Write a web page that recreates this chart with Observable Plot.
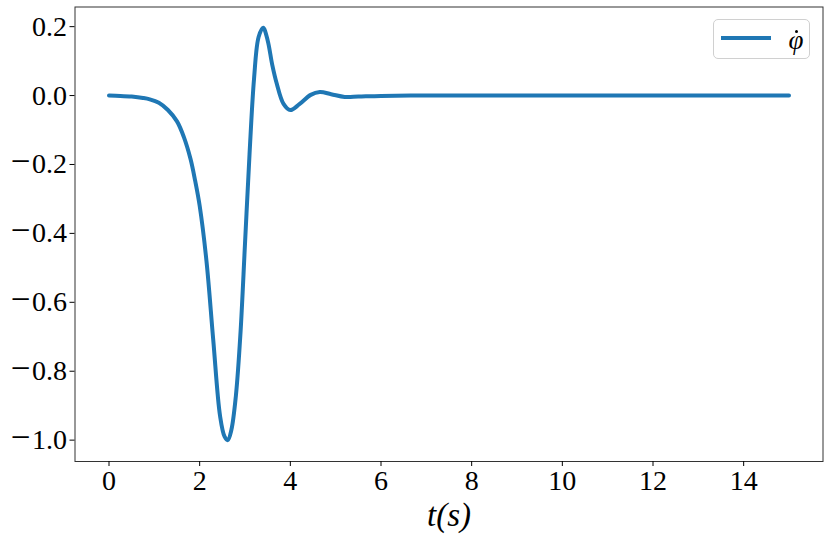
<!DOCTYPE html>
<html>
<head>
<meta charset="utf-8">
<script src="https://cdn.jsdelivr.net/npm/d3@7"></script>
<script src="https://cdn.jsdelivr.net/npm/@observablehq/plot@0.6"></script>
<style>
  html, body { margin: 0; padding: 0; background: white; }
  #wrap { position: relative; width: 830px; height: 537px; }
  #wrap svg text { font-family: "Liberation Serif", "DejaVu Serif", serif; }
  #legend { position: absolute; left: 712.5px; top: 18.5px; width: 97px; height: 40px;
    border: 1px solid #d0d0d0; border-radius: 5px; background: rgba(255,255,255,0.8);
    box-sizing: border-box; }
  #legend .swatch { position: absolute; left: 7px; top: 16.5px; width: 50px; height: 4px; background: #1f77b4; }
  #legend .lab { position: absolute; left: 75px; top: 2px; font-family: "Liberation Serif", serif; font-style: italic; font-size: 27px; line-height: 36px; }
  #legend .dot { position: absolute; left: 81px; top: 10px; width: 3px; height: 3px; border-radius: 50%; background: #000; }
</style>
</head>
<body>
<div id="wrap"><div id="legend"><div class="swatch"></div><div class="lab">φ</div><div class="dot"></div></div></div>
<script>
const tValues = [0, 0.25, 0.5, 0.75, 0.9, 1.1, 1.3, 1.5, 1.65, 1.8, 1.9, 2.0, 2.15, 2.3, 2.45, 2.55, 2.62, 2.7, 2.8, 2.9, 3.0, 3.1, 3.2, 3.3, 3.4, 3.5, 3.6, 3.7, 3.85, 4.0, 4.2, 4.45, 4.65, 4.9, 5.2, 5.5, 6.0, 7, 8, 9, 10, 11, 12, 13, 14, 15];
const phiDot = [0, -0.001, -0.003, -0.007, -0.011, -0.021, -0.042, -0.075, -0.12, -0.185, -0.247, -0.32, -0.48, -0.71, -0.93, -0.99, -1.0, -0.97, -0.87, -0.69, -0.43, -0.17, 0.05, 0.17, 0.197, 0.16, 0.09, 0.035, -0.024, -0.042, -0.025, 0.002, 0.01, 0.004, -0.004, -0.003, -0.001, 0, 0, 0, 0, 0, 0, 0, 0, 0];
const xTicks = [0, 2, 4, 6, 8, 10, 12, 14];
const yTicks = [0.2, 0.0, -0.2, -0.4, -0.6, -0.8, -1.0];
const xLabel = "t(s)";

const data = tValues.map((t, i) => ({t, v: phiDot[i]}));
const serif = "'Liberation Serif', 'DejaVu Serif', serif";
const yFmt = d => (d < 0 ? "\u2212" : "") + Math.abs(d).toFixed(1);

const chart = Plot.plot({
  width: 830,
  height: 537,
  marginLeft: 74.5,
  marginRight: 7.5,
  marginTop: 6.5,
  marginBottom: 76,
  style: {fontFamily: serif, fontSize: "28px", background: "white", color: "black", overflow: "visible"},
  x: {domain: [-0.75, 15.75]},
  y: {domain: [-1.062, 0.257]},
  marks: [
    Plot.frame({stroke: "#333", strokeWidth: 1}),
    Plot.axisX({ticks: xTicks, tickSize: 5, tickPadding: 4, label: null, tickFormat: d => String(d), fontSize: 28, fontFamily: serif}),
    Plot.axisY({ticks: yTicks, tickSize: 5, tickPadding: 3, label: null, tickFormat: yFmt, fontSize: 28, fontFamily: serif}),
    Plot.line(data, {x: "t", y: "v", stroke: "#1f77b4", strokeWidth: 4, curve: "catmull-rom"}),
    Plot.text([xLabel], {frameAnchor: "bottom", dy: 54, text: d => d, fontSize: 33, fontStyle: "italic", fontFamily: serif, lineAnchor: "middle", textAnchor: "middle"})
  ]
});
// widen the minus sign of y tick labels (TeX-like proportions)
d3.select(chart).selectAll('g[aria-label="y-axis tick label"] text').each(function () {
  const s = this.textContent;
  if (s.startsWith("\u2212")) {
    this.textContent = "";
    d3.select(this).append("tspan").attr("font-size", 35).text("\u2212");
    d3.select(this).append("tspan").attr("dx", 1.5).text(s.slice(1));
  }
});
document.getElementById("wrap").prepend(chart);
</script>
</body>
</html>
